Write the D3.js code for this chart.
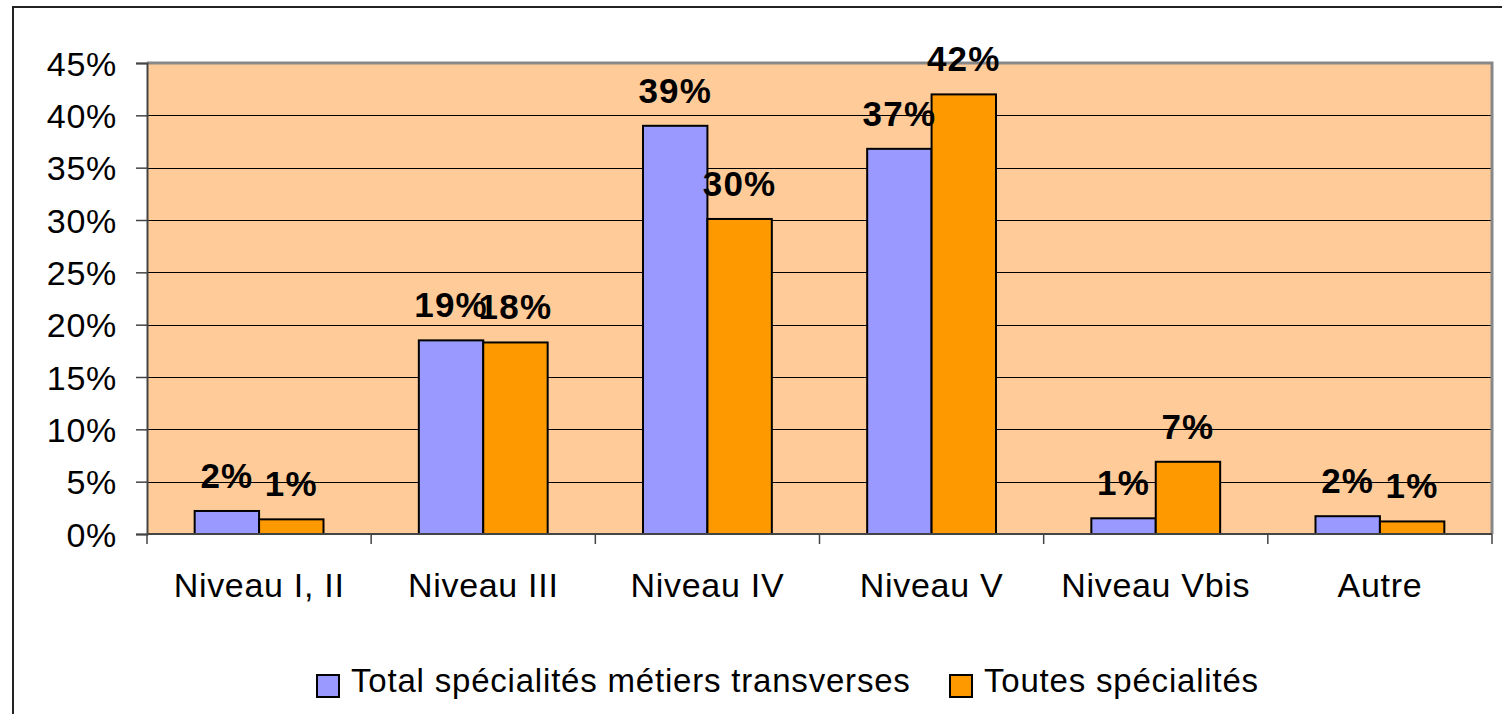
<!DOCTYPE html>
<html>
<head>
<meta charset="utf-8">
<script src="https://cdn.jsdelivr.net/npm/d3@7"></script>
<style>
  html, body { margin: 0; padding: 0; background: #fff; }
  svg { display: block; font-family: "Liberation Sans", Arial, sans-serif; }
</style>
</head>
<body>
<div id="chart"></div>
<script>
// Data
const categories = ["Niveau I, II", "Niveau III", "Niveau IV", "Niveau V", "Niveau Vbis", "Autre"];
const seriesNames = ["Total spécialités métiers transverses", "Toutes spécialités"];
const transverses = [0.022, 0.185, 0.390, 0.368, 0.015, 0.017];
const toutes = [0.014, 0.183, 0.301, 0.420, 0.069, 0.012];
const labelsTransverses = ["2%", "19%", "39%", "37%", "1%", "2%"];
const labelsToutes = ["1%", "18%", "30%", "42%", "7%", "1%"];
const yTicks = [0, 0.05, 0.10, 0.15, 0.20, 0.25, 0.30, 0.35, 0.40, 0.45];

const colors = ["#9999FF", "#FF9900"];

const width = 1502, height = 714;
const plot = { left: 147, right: 1492, top: 63, bottom: 534 };

const svg = d3.select("#chart").append("svg")
    .attr("width", width)
    .attr("height", height);

// outer frame
svg.append("rect")
    .attr("x", 13).attr("y", 7)
    .attr("width", width + 20).attr("height", height + 20)
    .attr("fill", "#fff")
    .attr("stroke", "#222")
    .attr("stroke-width", 2);

const x0 = d3.scaleBand()
    .domain(categories)
    .range([plot.left, plot.right])
    .padding(0);

const x1 = d3.scaleBand()
    .domain([0, 1])
    .range([0, x0.bandwidth()])
    .paddingInner(0)
    .paddingOuter(0.74);

const y = d3.scaleLinear()
    .domain([0, 0.45])
    .range([plot.bottom, plot.top]);

// plot background
svg.append("rect")
    .attr("x", plot.left).attr("y", plot.top)
    .attr("width", plot.right - plot.left)
    .attr("height", plot.bottom - plot.top)
    .attr("fill", "#FFCC99");

// gridlines
svg.append("g")
    .selectAll("line")
    .data(yTicks.slice(1, -1))
    .join("line")
    .attr("x1", plot.left).attr("x2", plot.right)
    .attr("y1", d => Math.round(y(d)) + 0.5)
    .attr("y2", d => Math.round(y(d)) + 0.5)
    .attr("stroke", "#000")
    .attr("stroke-width", 1);

// top and right gray border
svg.append("path")
    .attr("d", `M${plot.left},${plot.top} H${plot.right} V${plot.bottom}`)
    .attr("fill", "none")
    .attr("stroke", "#888")
    .attr("stroke-width", 3);

// bars
const rows = categories.map((c, i) => ({ cat: c, vals: [transverses[i], toutes[i]], labels: [labelsTransverses[i], labelsToutes[i]] }));

const groups = svg.append("g")
    .selectAll("g")
    .data(rows)
    .join("g")
    .attr("transform", d => "translate(" + x0(d.cat) + ",0)");

groups.selectAll("rect")
    .data(d => d.vals.map((v, k) => ({ k: k, v: v })))
    .join("rect")
    .attr("x", d => x1(d.k))
    .attr("y", d => y(d.v))
    .attr("width", x1.bandwidth())
    .attr("height", d => y(0) - y(d.v))
    .attr("fill", d => colors[d.k])
    .attr("stroke", "#000")
    .attr("stroke-width", 2);

// y axis
const yAxis = svg.append("g")
    .attr("transform", "translate(" + plot.left + ",0)")
    .call(d3.axisLeft(y).tickValues(yTicks).tickFormat(d3.format(".0%")).tickSize(11).tickPadding(19));
yAxis.select(".domain").attr("stroke", "#444").attr("stroke-width", 2);
yAxis.selectAll(".tick line").attr("stroke", "#444").attr("stroke-width", 1.5);
yAxis.selectAll("text")
    .attr("font-size", 34)
    .attr("font-family", "Liberation Sans, Arial, sans-serif")
    .attr("fill", "#000")
    .attr("letter-spacing", 0.7)
    .attr("dy", "0.36em");

// x axis
const xAxis = svg.append("g")
    .attr("transform", "translate(0," + plot.bottom + ")")
    .call(d3.axisBottom(x0).tickSize(0).tickPadding(0));
xAxis.select(".domain").remove();
xAxis.selectAll("text")
    .attr("font-size", 34)
    .attr("font-family", "Liberation Sans, Arial, sans-serif")
    .attr("fill", "#000")
    .attr("letter-spacing", 0.7)
    .attr("y", 63)
    .attr("dy", 0);

svg.append("line")
    .attr("x1", plot.left).attr("x2", plot.right)
    .attr("y1", plot.bottom).attr("y2", plot.bottom)
    .attr("stroke", "#444").attr("stroke-width", 2);

const boundaries = categories.map(c => x0(c)).concat([x0.range()[1]]);
svg.append("g")
    .selectAll("line")
    .data(boundaries)
    .join("line")
    .attr("x1", d => d).attr("x2", d => d)
    .attr("y1", plot.bottom).attr("y2", plot.bottom + 10)
    .attr("stroke", "#444")
    .attr("stroke-width", 1.5);

// value labels
groups.selectAll("text.val")
    .data(d => d.vals.map((v, k) => ({ k: k, v: v, label: d.labels[k] })))
    .join("text")
    .attr("class", "val")
    .attr("x", d => x1(d.k) + x1.bandwidth() / 2)
    .attr("y", d => y(d.v) - 23)
    .attr("text-anchor", "middle")
    .attr("font-size", 35)
    .attr("font-weight", "bold")
    .attr("letter-spacing", 1.2)
    .attr("fill", "#000")
    .text(d => d.label);

// legend
const legendItems = [
    { name: seriesNames[0], color: colors[0], x: 317 },
    { name: seriesNames[1], color: colors[1], x: 950 }
];
const legend = svg.append("g");
const li = legend.selectAll("g")
    .data(legendItems)
    .join("g")
    .attr("transform", d => "translate(" + d.x + ",675)");
li.append("rect")
    .attr("width", 22).attr("height", 22)
    .attr("fill", d => d.color)
    .attr("stroke", "#000")
    .attr("stroke-width", 2);
li.append("text")
    .attr("x", 34)
    .attr("y", 17)
    .attr("font-size", 33)
    .attr("fill", "#000")
    .attr("letter-spacing", 0.8)
    .text(d => d.name);
</script>
</body>
</html>
